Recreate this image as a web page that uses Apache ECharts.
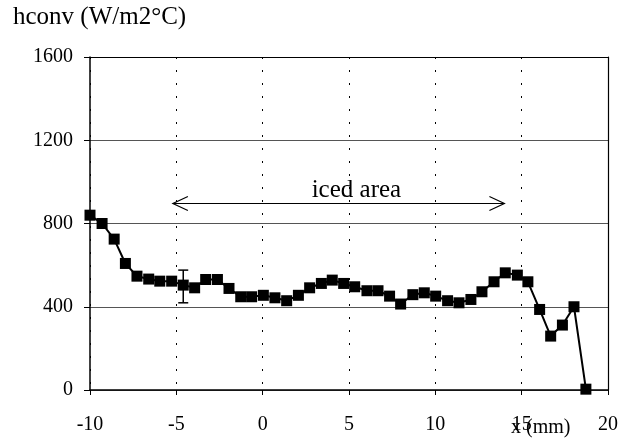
<!DOCTYPE html>
<html>
<head>
    <meta charset="utf-8">
    <title>hconv</title>
    <script src="https://cdn.jsdelivr.net/npm/echarts@6.0.0/dist/echarts.min.js"></script>
    <style>
        body { margin: 0; background: #fff; }
        #chart { width: 637px; height: 446px; }
    </style>
</head>
<body>
    <div id="chart"></div>
    <script>
        // 测量点位置 (mm) 和对流换热系数
        var xPos = [-10, -9.3, -8.6, -7.95, -7.28, -6.6, -5.96, -5.27, -4.6, -3.94,
            -3.3, -2.62, -1.95, -1.27, -0.64, 0.04, 0.71, 1.39, 2.07, 2.72,
            3.4, 4.03, 4.69, 5.33, 6.04, 6.68, 7.35, 7.99, 8.7, 9.36,
            10.02, 10.71, 11.37, 12.06, 12.7, 13.4, 14.05, 14.75, 15.36, 16.04,
            16.68, 17.36, 18.03, 18.72];
        var hconv = [840, 800, 725, 608, 547, 533, 523, 523, 504, 491,
            531, 531, 488, 448, 448, 455, 443, 429, 455, 491,
            512, 528, 512, 496, 477, 477, 451, 413, 458, 467,
            451, 429, 419, 435, 472, 520, 563, 552, 520, 387,
            259, 312, 400, 4];
        // 误差棒: [x, 下限, 上限]
        var errBar = [[-4.6, 419, 576]];
        // 结冰区域箭头: [x起点, x终点, y, 文字x]
        var icedArrow = [[-5.2, 14.0, 896, 5.43]];

        var chart = echarts.init(document.getElementById('chart'));
        var font = '"Liberation Serif", "Times New Roman", serif';
        var frame = { show: true, onZero: false, lineStyle: { color: '#000', width: 1.2 } };

        var option = {
            animation: false,
            grid: { left: 90, right: 29, top: 57, bottom: 56 },
            xAxis: [{
                type: 'value', min: -10, max: 20, interval: 5,
                axisLine: { onZero: false, lineStyle: { color: '#000', width: 1.5 } },
                axisTick: { show: true, length: 5, lineStyle: { color: '#000' } },
                axisLabel: { color: '#000', fontFamily: font, fontSize: 20, margin: 25 },
                splitLine: { show: true, lineStyle: { color: '#000', type: [2, 11], width: 1 } }
            }, {
                // 上边框
                type: 'value', position: 'top', min: -10, max: 20,
                axisLine: frame, axisTick: { show: false }, axisLabel: { show: false },
                splitLine: { show: false }
            }],
            yAxis: [{
                type: 'value', min: 0, max: 1600, interval: 400,
                axisLine: { show: true, onZero: false, lineStyle: { color: '#000', width: 1.5 } },
                axisTick: { show: true, length: 6, lineStyle: { color: '#000' } },
                axisLabel: { color: '#000', fontFamily: font, fontSize: 20, margin: 17,
                             formatter: function (v) { return String(v); } },
                splitLine: { show: true, lineStyle: { color: '#555', width: 1 } }
            }, {
                // 右边框
                type: 'value', position: 'right', min: 0, max: 1600,
                axisLine: frame, axisTick: { show: false }, axisLabel: { show: false },
                splitLine: { show: false }
            }],
            graphic: [
                { type: 'text', left: 13, top: 5,
                  style: { text: 'hconv (W/m2\u00b0C)', font: '25px ' + font, fill: '#000' } },
                { type: 'text', left: 511, top: 418,
                  style: { text: 'x (mm)', font: '20px ' + font, fill: '#000' } }
            ],
            series: [
                {
                    type: 'line',
                    data: xPos.map(function (x, i) { return [x, hconv[i]]; }),
                    symbol: 'rect', symbolSize: 11,
                    lineStyle: { color: '#000', width: 2 },
                    itemStyle: { color: '#000' },
                    z: 5
                },
                {
                    type: 'custom',
                    data: errBar,
                    renderItem: function (params, api) {
                        var lo = api.coord([api.value(0), api.value(1)]);
                        var hi = api.coord([api.value(0), api.value(2)]);
                        var st = { stroke: '#000', lineWidth: 1.5 };
                        return { type: 'group', children: [
                            { type: 'line', shape: { x1: lo[0], y1: lo[1], x2: hi[0], y2: hi[1] }, style: st },
                            { type: 'line', shape: { x1: lo[0] - 5, y1: lo[1], x2: lo[0] + 5, y2: lo[1] }, style: st },
                            { type: 'line', shape: { x1: hi[0] - 5, y1: hi[1], x2: hi[0] + 5, y2: hi[1] }, style: st }
                        ] };
                    },
                    z: 6
                },
                {
                    type: 'custom',
                    data: icedArrow,
                    renderItem: function (params, api) {
                        var a = api.coord([api.value(0), api.value(2)]);
                        var b = api.coord([api.value(1), api.value(2)]);
                        var t = api.coord([api.value(3), api.value(2)]);
                        var st = { stroke: '#000', lineWidth: 1.2, fill: null };
                        return { type: 'group', children: [
                            { type: 'line', shape: { x1: a[0], y1: a[1], x2: b[0], y2: b[1] }, style: st },
                            { type: 'polyline', shape: { points: [[a[0] + 15, a[1] - 7], [a[0], a[1]], [a[0] + 15, a[1] + 7]] }, style: st },
                            { type: 'polyline', shape: { points: [[b[0] - 15, b[1] - 7], [b[0], b[1]], [b[0] - 15, b[1] + 7]] }, style: st },
                            { type: 'text', x: t[0], y: a[1] - 1,
                              style: { text: 'iced area', font: '25px ' + font, fill: '#000',
                                       align: 'center', verticalAlign: 'bottom' } }
                        ] };
                    },
                    z: 6
                }
            ]
        };
        chart.setOption(option);
    </script>
</body>
</html>
